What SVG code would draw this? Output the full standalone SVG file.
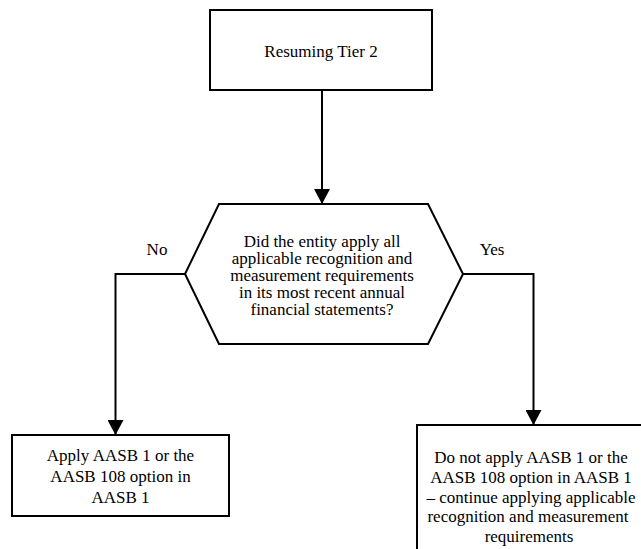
<svg xmlns="http://www.w3.org/2000/svg" width="641" height="549" viewBox="0 0 641 549">
<defs>
<style>
.box{fill:#fff;stroke:#000;stroke-width:2}
.conn{fill:none;stroke:#000;stroke-width:2}
text{font-family:"Liberation Serif","Times New Roman",serif;font-size:17px;fill:#000;text-anchor:middle}
</style>
<marker id="arrow" viewBox="0 0 15 16" refX="15" refY="8" markerWidth="15" markerHeight="16" markerUnits="userSpaceOnUse" orient="auto">
<path d="M0,0 L15,8 L0,16 z" fill="#000"/>
</marker>
</defs>
<rect width="641" height="549" fill="#fff"/>
<g id="connectors">
<path class="conn" d="M322,90 V204" marker-end="url(#arrow)"/>
<path class="conn" d="M185,274 H115.5 V435" marker-end="url(#arrow)"/>
<path class="conn" d="M463,274 H533.5 V425" marker-end="url(#arrow)"/>
<text x="157" y="255">No</text>
<text x="492" y="255">Yes</text>
</g>
<g id="start">
<rect class="box" x="210" y="10" width="222" height="80"/>
<text x="321" y="57">Resuming Tier 2</text>
</g>
<g id="decision">
<polygon class="box" points="219,204 428,204 463,274 428,344 219,344 185,274"/>
<text x="322" y="246.5">Did the entity apply all</text>
<text x="322" y="263.7">applicable recognition and</text>
<text x="322" y="280.9">measurement requirements</text>
<text x="322" y="298.1">in its most recent annual</text>
<text x="322" y="315.3">financial statements?</text>
</g>
<g id="no-box">
<rect class="box" x="12" y="435" width="217" height="81"/>
<text x="120.5" y="460.5">Apply AASB 1 or the</text>
<text x="120.5" y="481.5">AASB 108 option in</text>
<text x="120.5" y="502.5">AASB 1</text>
</g>
<g id="yes-box">
<rect class="box" x="417" y="425" width="232" height="140"/>
<text x="531" y="463">Do not apply AASB 1 or the</text>
<text x="531" y="483">AASB 108 option in AASB 1</text>
<text x="531" y="502.5">– continue applying applicable</text>
<text x="528" y="522">recognition and measurement</text>
<text x="529" y="542">requirements</text>
</g>
</svg>
